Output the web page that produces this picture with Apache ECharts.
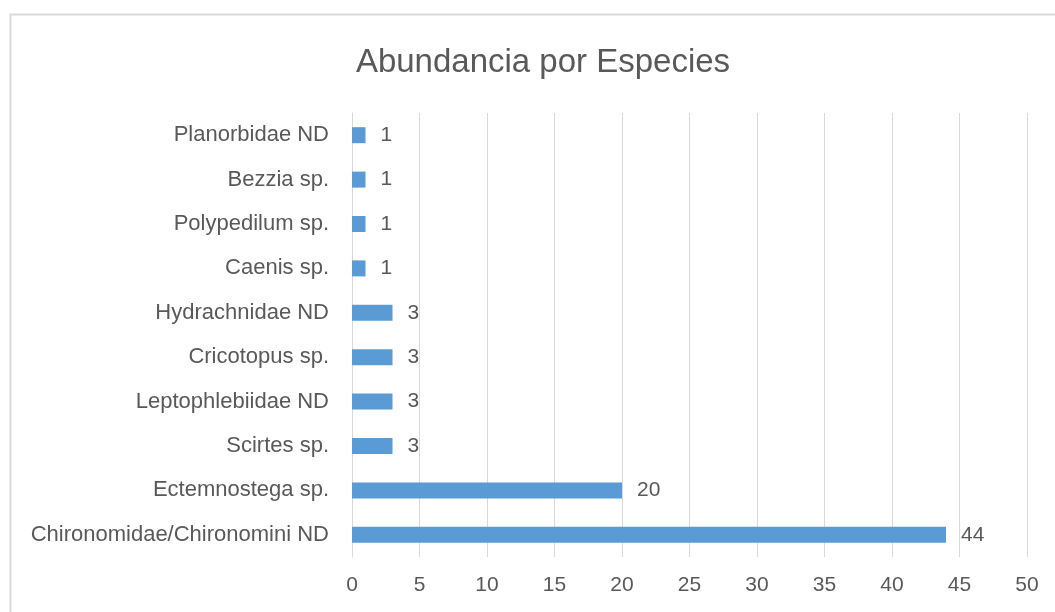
<!DOCTYPE html>
<html>
<head>
<meta charset="utf-8">
<script src="https://cdn.jsdelivr.net/npm/echarts@6/dist/echarts.min.js"></script>
<style>
    html, body { margin: 0; padding: 0; background: #fff; }
    #chart { width: 1055px; height: 612px; }
</style>
</head>
<body>
<div id="chart"></div>
<script>
// 类别 (bottom → top)
const species = [
    "Chironomidae/Chironomini ND",
    "Ectemnostega sp.",
    "Scirtes sp.",
    "Leptophlebiidae ND",
    "Cricotopus sp.",
    "Hydrachnidae ND",
    "Caenis sp.",
    "Polypedilum sp.",
    "Bezzia sp.",
    "Planorbidae ND"
];
// 数值
const abundance = [44, 20, 3, 3, 3, 3, 1, 1, 1, 1];

const textColor = "#595959";
const font = "'Liberation Sans', Arial, sans-serif";

let myChart = echarts.init(document.getElementById("chart"));

let option = {
    backgroundColor: "#fff",
    animation: false,
    title: {
        text: "Abundancia por Especies",
        left: 538,
        top: 41,
        textAlign: "center",
        textStyle: {
            color: textColor,
            fontFamily: font,
            fontSize: 33,
            fontWeight: "normal"
        }
    },
    // 外框
    graphic: [
        {
            type: "rect",
            shape: { x: 10.5, y: 14.5, width: 1100, height: 700 },
            style: { fill: "none", stroke: "#d9d9d9", lineWidth: 2 },
            silent: true
        }
    ],
    grid: {
        left: 352,
        right: 28,
        top: 113,
        bottom: 55,
        containLabel: false
    },
    xAxis: {
        type: "value",
        min: 0,
        max: 50,
        interval: 5,
        axisLine: { show: false },
        axisTick: { show: false },
        splitLine: { show: true, lineStyle: { color: "#d9d9d9", width: 1 } },
        axisLabel: {
            color: textColor,
            fontFamily: font,
            fontSize: 21,
            margin: 18
        }
    },
    yAxis: {
        type: "category",
        data: species,
        axisLine: { show: true, lineStyle: { color: "#d9d9d9", width: 1 } },
        axisTick: { show: false },
        axisLabel: {
            color: textColor,
            fontFamily: font,
            fontSize: 22,
            margin: 23
        }
    },
    series: [
        {
            type: "bar",
            data: abundance,
            barWidth: 16,
            itemStyle: { color: "#5b9bd5" },
            label: {
                show: true,
                position: "right",
                distance: 15,
                color: textColor,
                fontFamily: font,
                fontSize: 21
            }
        }
    ]
};

myChart.setOption(option);
</script>
</body>
</html>
